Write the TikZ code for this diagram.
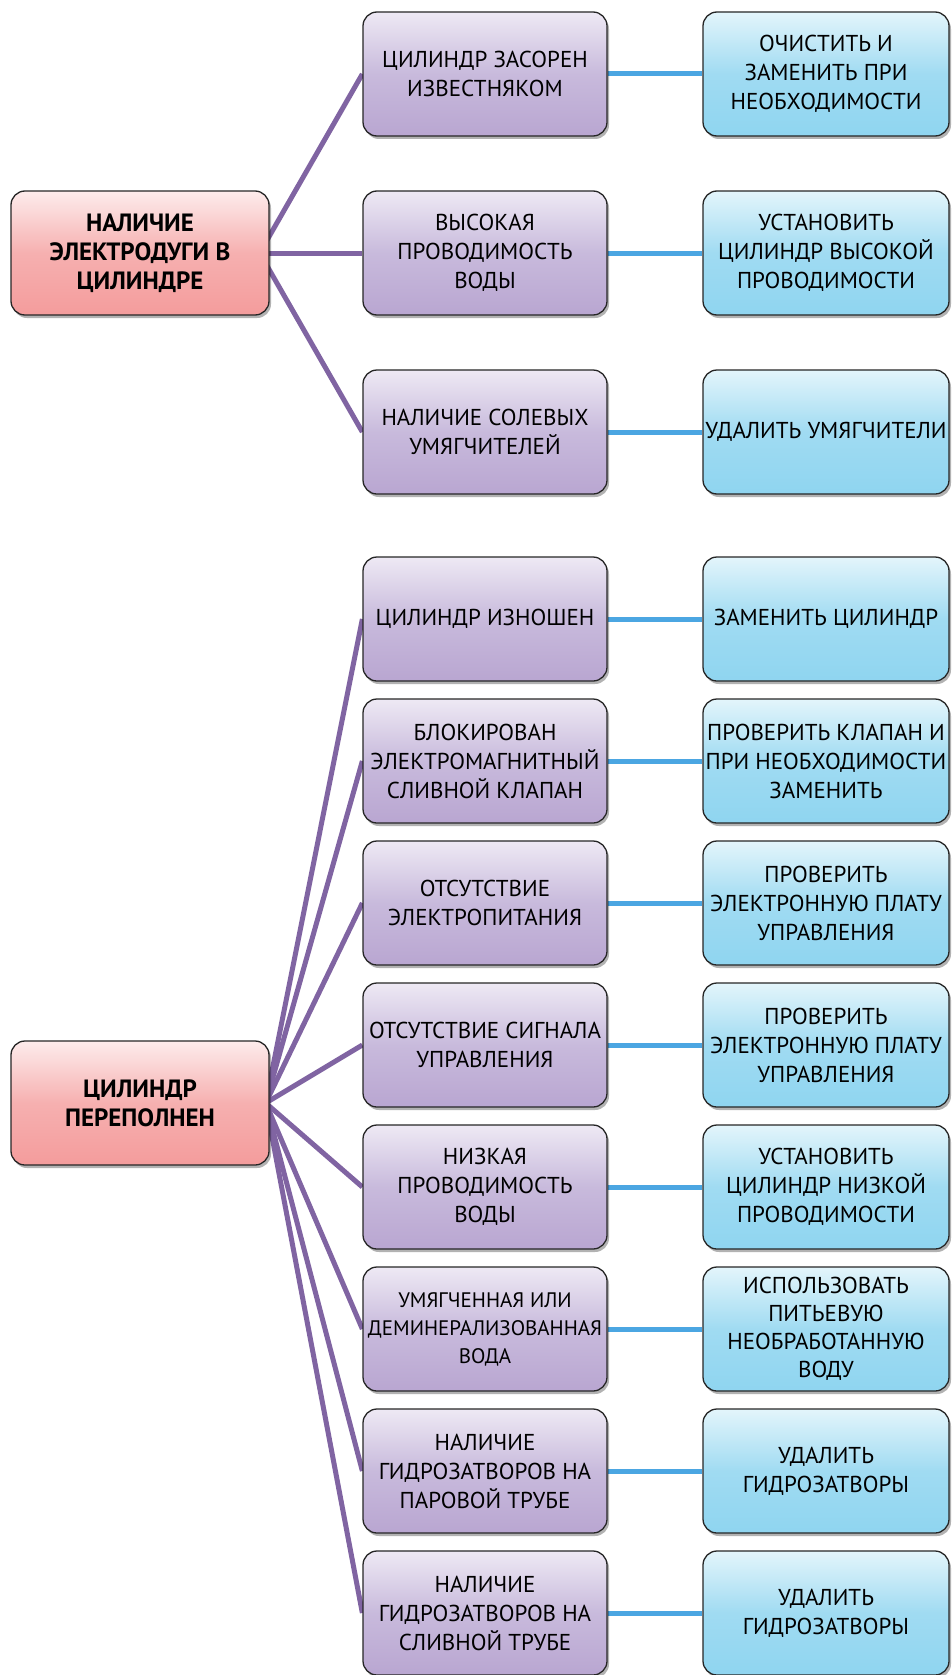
\documentclass[tikz,border=0pt]{standalone}
\usepackage{fontspec}
\setmainfont{PT Sans}
\usetikzlibrary{shadows,backgrounds}

\definecolor{rootTop}{HTML}{FDECEC}
\definecolor{rootMid}{HTML}{F6B0B0}
\definecolor{rootBot}{HTML}{F49C9C}
\definecolor{causeTop}{HTML}{EEE9F4}
\definecolor{causeMid}{HTML}{C8BADC}
\definecolor{causeBot}{HTML}{B9A6D1}
\definecolor{fixTop}{HTML}{E3F5FB}
\definecolor{fixMid}{HTML}{A0DBF2}
\definecolor{fixBot}{HTML}{8FD5F0}
\definecolor{treeLine}{HTML}{8064A2}
\definecolor{linkLine}{HTML}{4BA6E2}

\begin{document}
\begin{tikzpicture}[x=1pt,y=-1pt,
    box/.style={draw=black!85, line width=1.3pt, rounded corners=14pt,
        minimum width=244pt, minimum height=124pt, inner sep=0pt, align=center,
        font=\fontsize{23}{29}\selectfont,
        drop shadow={shadow xshift=2pt, shadow yshift=-3pt, opacity=0.3, fill=black}},
    root/.style={box, minimum width=258pt, top color=rootTop, bottom color=rootBot,
        middle color=rootMid, font=\bfseries\fontsize{25}{29}\selectfont},
    cause/.style={box, top color=causeTop, bottom color=causeBot, middle color=causeMid},
    fix/.style={box, minimum width=246pt, top color=fixTop, bottom color=fixBot,
        middle color=fixMid},
    tree/.style={draw=treeLine, line width=5pt},
    link/.style={draw=linkLine, line width=5pt}]

        \useasboundingbox (0,0) rectangle (951,1675);

        % Define nodes
        \node[root] (R1) at (140,253) {НАЛИЧИЕ\\ЭЛЕКТРОДУГИ В\\ЦИЛИНДРЕ};
        \node[cause] (C1) at (485,74) {ЦИЛИНДР ЗАСОРЕН\\ИЗВЕСТНЯКОМ};
        \node[cause] (C2) at (485,253) {ВЫСОКАЯ\\ПРОВОДИМОСТЬ\\ВОДЫ};
        \node[cause] (C3) at (485,432) {НАЛИЧИЕ СОЛЕВЫХ\\УМЯГЧИТЕЛЕЙ};
        \node[fix] (F1) at (826,74) {ОЧИСТИТЬ И\\ЗАМЕНИТЬ ПРИ\\НЕОБХОДИМОСТИ};
        \node[fix] (F2) at (826,253) {УСТАНОВИТЬ\\ЦИЛИНДР ВЫСОКОЙ\\ПРОВОДИМОСТИ};
        \node[fix] (F3) at (826,432) {УДАЛИТЬ УМЯГЧИТЕЛИ};

        \node[root] (R2) at (140,1103) {ЦИЛИНДР\\ПЕРЕПОЛНЕН};
        \node[cause] (C4) at (485,619) {ЦИЛИНДР ИЗНОШЕН};
        \node[cause] (C5) at (485,761) {БЛОКИРОВАН\\ЭЛЕКТРОМАГНИТНЫЙ\\СЛИВНОЙ КЛАПАН};
        \node[cause] (C6) at (485,903) {ОТСУТСТВИЕ\\ЭЛЕКТРОПИТАНИЯ};
        \node[cause] (C7) at (485,1045) {ОТСУТСТВИЕ СИГНАЛА\\УПРАВЛЕНИЯ};
        \node[cause] (C8) at (485,1187) {НИЗКАЯ\\ПРОВОДИМОСТЬ\\ВОДЫ};
        \node[cause, font=\fontsize{21}{28}\selectfont] (C9) at (485,1329) {УМЯГЧЕННАЯ ИЛИ\\ДЕМИНЕРАЛИЗОВАННАЯ\\ВОДА};
        \node[cause] (C10) at (485,1471) {НАЛИЧИЕ\\ГИДРОЗАТВОРОВ НА\\ПАРОВОЙ ТРУБЕ};
        \node[cause] (C11) at (485,1613) {НАЛИЧИЕ\\ГИДРОЗАТВОРОВ НА\\СЛИВНОЙ ТРУБЕ};
        \node[fix] (F4) at (826,619) {ЗАМЕНИТЬ ЦИЛИНДР};
        \node[fix] (F5) at (826,761) {ПРОВЕРИТЬ КЛАПАН И\\ПРИ НЕОБХОДИМОСТИ\\ЗАМЕНИТЬ};
        \node[fix] (F6) at (826,903) {ПРОВЕРИТЬ\\ЭЛЕКТРОННУЮ ПЛАТУ\\УПРАВЛЕНИЯ};
        \node[fix] (F7) at (826,1045) {ПРОВЕРИТЬ\\ЭЛЕКТРОННУЮ ПЛАТУ\\УПРАВЛЕНИЯ};
        \node[fix] (F8) at (826,1187) {УСТАНОВИТЬ\\ЦИЛИНДР НИЗКОЙ\\ПРОВОДИМОСТИ};
        \node[fix, font=\fontsize{23}{28}\selectfont] (F9) at (826,1329) {ИСПОЛЬЗОВАТЬ\\ПИТЬЕВУЮ\\НЕОБРАБОТАННУЮ\\ВОДУ};
        \node[fix] (F10) at (826,1471) {УДАЛИТЬ\\ГИДРОЗАТВОРЫ};
        \node[fix] (F11) at (826,1613) {УДАЛИТЬ\\ГИДРОЗАТВОРЫ};

        % branch points hidden behind the root boxes
        \coordinate (H1) at ([xshift=-10pt]R1.east);
        \coordinate (H2) at ([xshift=-4pt]R2.east);

        % Draw edges
        \begin{scope}[on background layer]
            \foreach \i in {1,2,3}
                \draw[tree] (H1) -- (C\i.west);
            \foreach \i in {4,...,11}
                \draw[tree] (H2) -- (C\i.west);
            \foreach \i in {1,...,11}
                \draw[link] (C\i.east) -- (F\i.west);
        \end{scope}
    \end{tikzpicture}
\end{document}
